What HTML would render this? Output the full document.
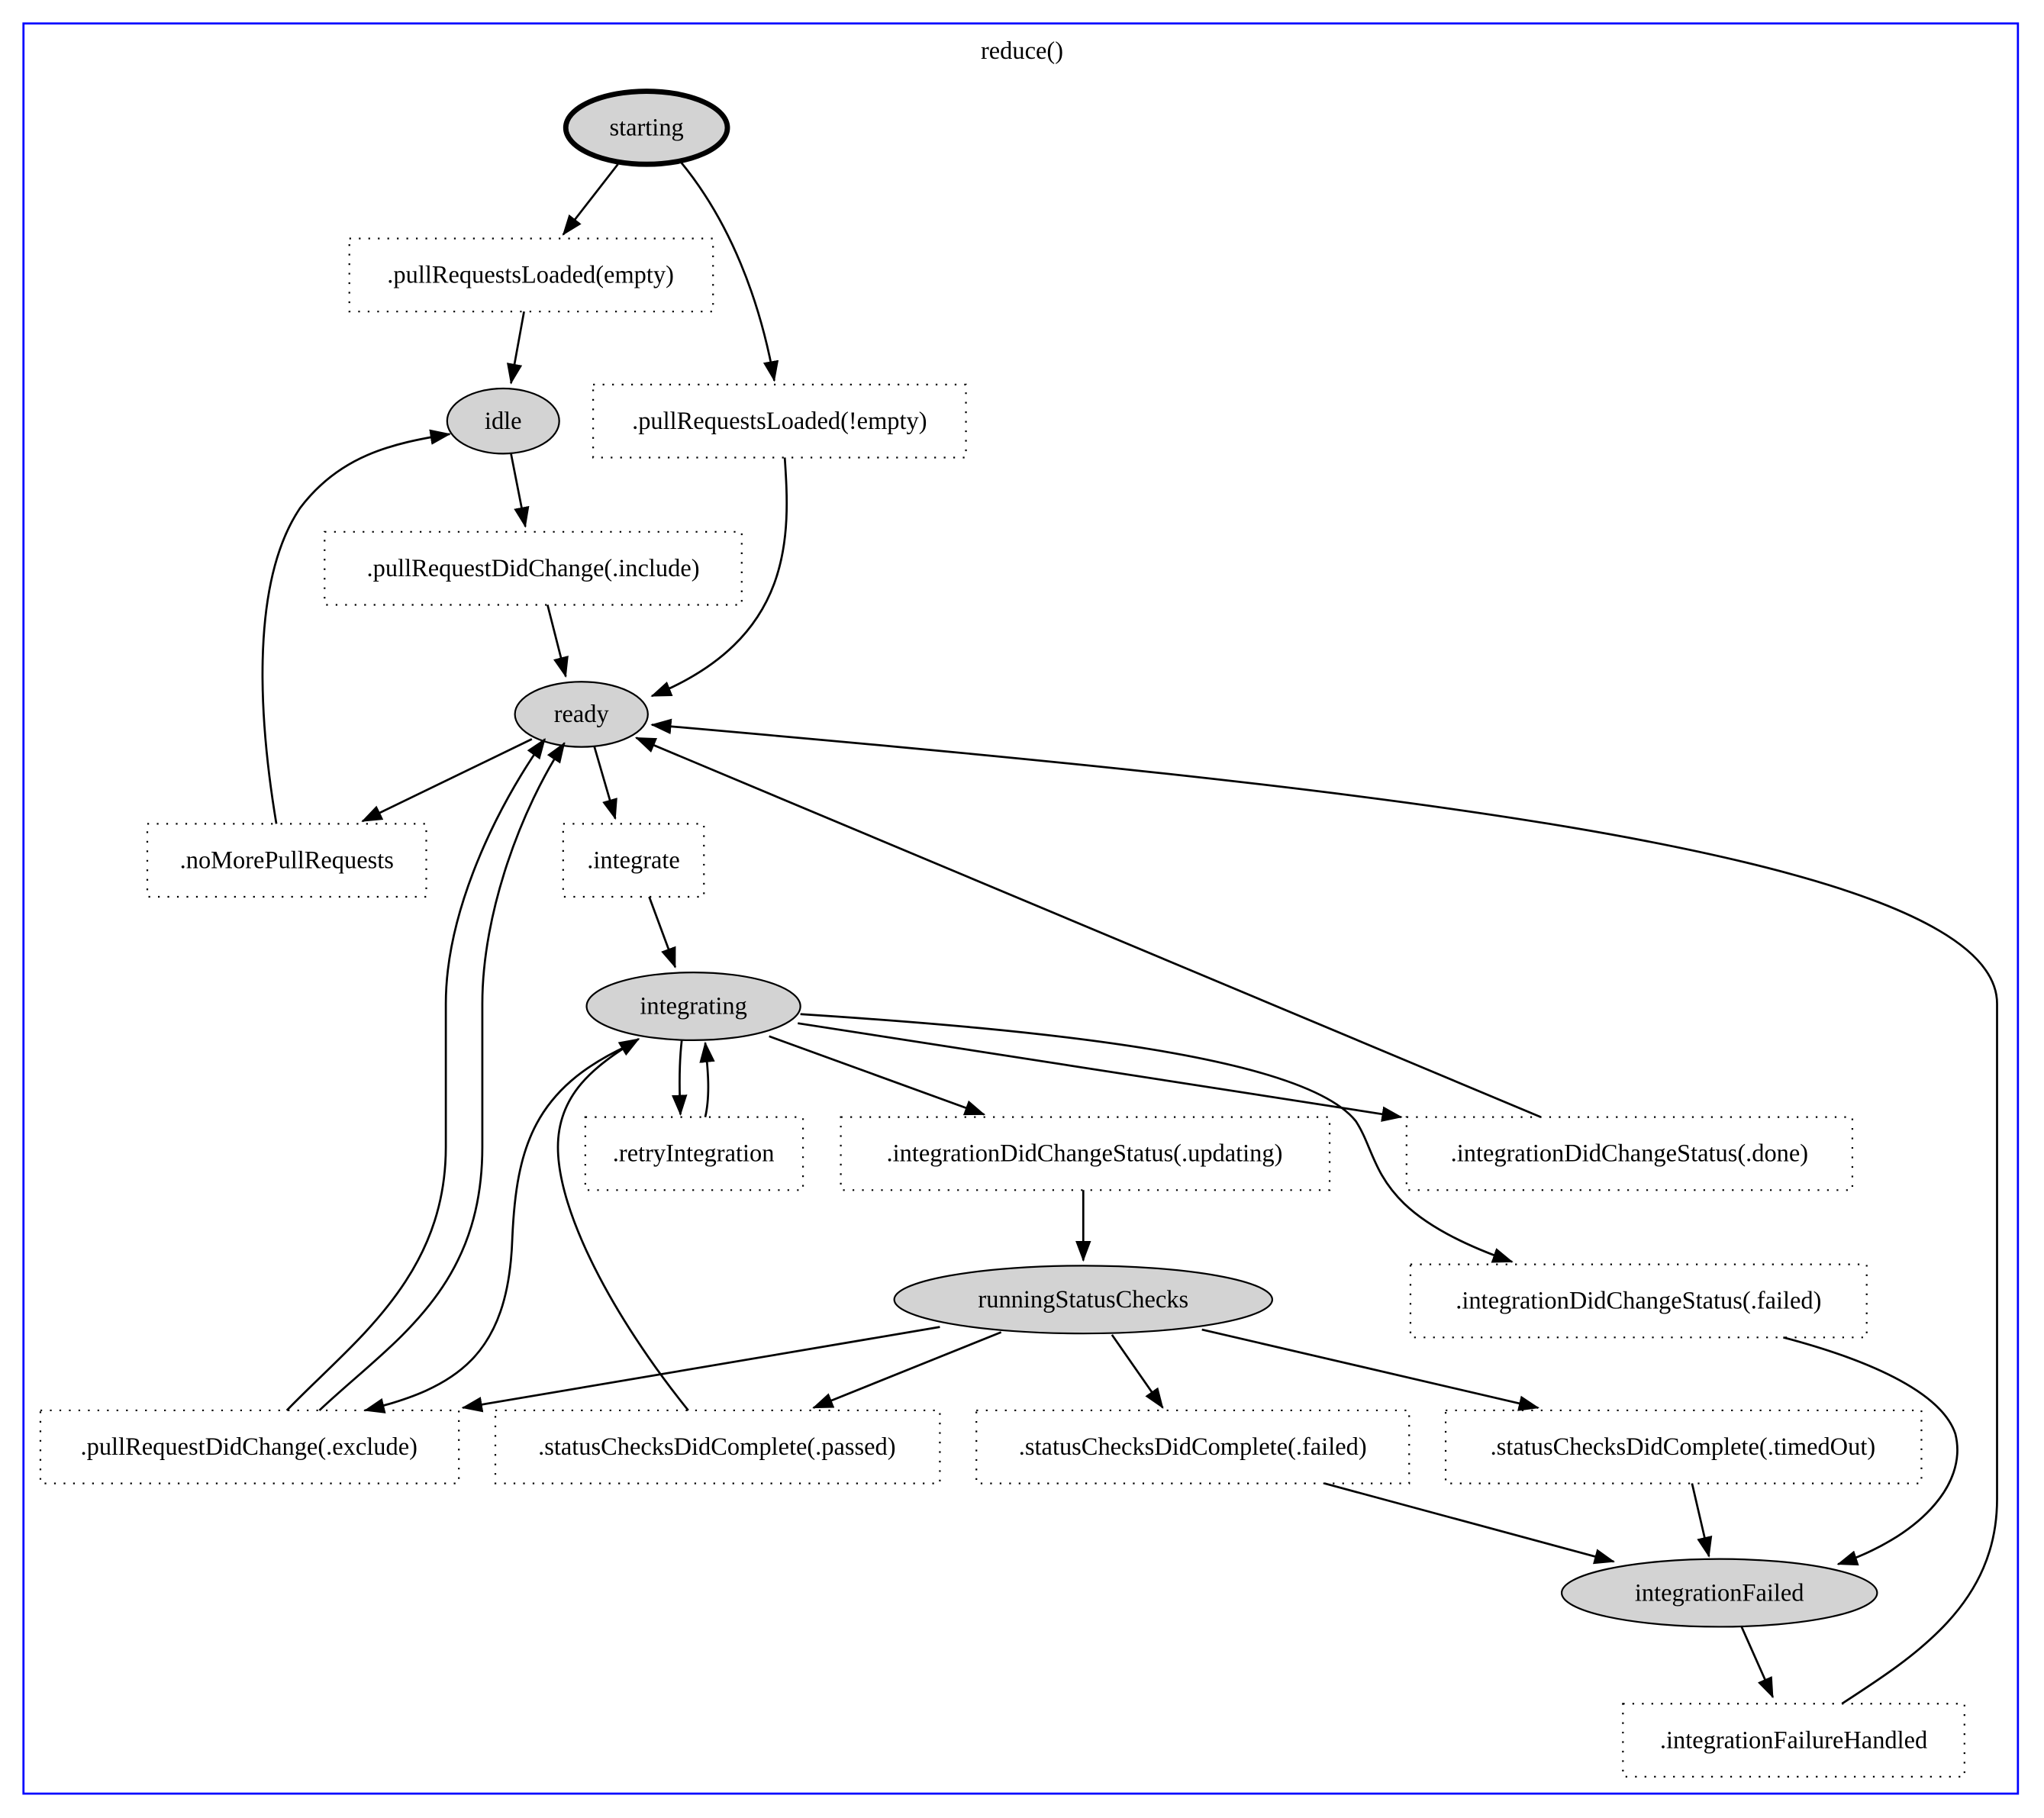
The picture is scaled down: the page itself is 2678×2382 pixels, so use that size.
<!DOCTYPE html>
<html><head><meta charset="utf-8"><style>
html,body{margin:0;padding:0;background:#fff;}
svg{display:block;}
text{font-family:"Liberation Serif",serif;font-size:19px;fill:#000;text-anchor:middle;}
.b{fill:none;stroke:#000;stroke-width:1.3;stroke-dasharray:1.3 6;}
.n{fill:#d3d3d3;stroke:#000;stroke-width:1.3;}
.e{fill:none;stroke:#000;stroke-width:1.6;marker-end:url(#a);}
</style></head><body>
<svg width="2678" height="2382" viewBox="0 0 1568 1394.7" xmlns="http://www.w3.org/2000/svg">
<defs><marker id="a" markerUnits="userSpaceOnUse" markerWidth="16" markerHeight="12" refX="15" refY="6" orient="auto"><path d="M0,0 L16,6 L0,12 Z" fill="#000"/></marker></defs>
<rect x="18" y="18" width="1530" height="1358" fill="none" stroke="#0000ff" stroke-width="1.6"/>
<text x="784" y="45">reduce()</text>

<ellipse class="n" cx="496" cy="98" rx="62" ry="28" style="stroke-width:4"/><text x="496" y="104">starting</text>
<ellipse class="n" cx="386" cy="323" rx="43" ry="25"/><text x="386" y="329">idle</text>
<ellipse class="n" cx="446" cy="548" rx="51" ry="25"/><text x="446" y="554">ready</text>
<ellipse class="n" cx="532" cy="772" rx="82" ry="26"/><text x="532" y="778">integrating</text>
<ellipse class="n" cx="831" cy="997" rx="145" ry="26"/><text x="831" y="1003">runningStatusChecks</text>
<ellipse class="n" cx="1319" cy="1222" rx="121" ry="26"/><text x="1319" y="1228">integrationFailed</text>

<rect class="b" x="268" y="183" width="279" height="56"/><text x="407" y="217">.pullRequestsLoaded(empty)</text>
<rect class="b" x="455" y="295" width="286" height="56"/><text x="598" y="329">.pullRequestsLoaded(!empty)</text>
<rect class="b" x="249" y="408" width="320" height="56"/><text x="409" y="442">.pullRequestDidChange(.include)</text>
<rect class="b" x="113" y="632" width="214" height="56"/><text x="220" y="666">.noMorePullRequests</text>
<rect class="b" x="432" y="632" width="108" height="56"/><text x="486" y="666">.integrate</text>
<rect class="b" x="449" y="857" width="167" height="56"/><text x="532" y="891">.retryIntegration</text>
<rect class="b" x="645" y="857" width="375" height="56"/><text x="832" y="891">.integrationDidChangeStatus(.updating)</text>
<rect class="b" x="1079" y="857" width="342" height="56"/><text x="1250" y="891">.integrationDidChangeStatus(.done)</text>
<rect class="b" x="1082" y="970" width="350" height="56"/><text x="1257" y="1004">.integrationDidChangeStatus(.failed)</text>
<rect class="b" x="31" y="1082" width="321" height="56"/><text x="191" y="1116">.pullRequestDidChange(.exclude)</text>
<rect class="b" x="380" y="1082" width="341" height="56"/><text x="550" y="1116">.statusChecksDidComplete(.passed)</text>
<rect class="b" x="749" y="1082" width="332" height="56"/><text x="915" y="1116">.statusChecksDidComplete(.failed)</text>
<rect class="b" x="1109" y="1082" width="365" height="56"/><text x="1291" y="1116">.statusChecksDidComplete(.timedOut)</text>
<rect class="b" x="1245" y="1307" width="262" height="56"/><text x="1376" y="1341">.integrationFailureHandled</text>

<path class="e" d="M474,126 L432,180"/>
<path class="e" d="M522,124 C560,170 583,230 594,292"/>
<path class="e" d="M402,239 L392,294"/>
<path class="e" d="M392,348 L403,404"/>
<path class="e" d="M420,464 L434,519"/>
<path class="e" d="M602,351 C606,410 610,490 500,534"/>
<path class="e" d="M408,567 L278,630"/>
<path class="e" d="M456,573 L472,628"/>
<path class="e" d="M212,632 C200,560 190,450 230,390 C260,350 300,340 345,333"/>
<path class="e" d="M498,688 L518,742"/>
<path class="e" d="M523,798 C521,815 521,835 522,855"/>
<path class="e" d="M541,857 C545,840 543,820 541,800"/>
<path class="e" d="M590,795 L755,855"/>
<path class="e" d="M612,785 L1075,857"/>
<path class="e" d="M614,778 C800,790 1000,810 1040,860 C1060,890 1050,930 1160,968"/>
<path class="e" d="M1182,857 L488,566"/>
<path class="e" d="M831,913 L831,967"/>
<path class="e" d="M721,1018 L355,1080"/>
<path class="e" d="M768,1022 L624,1080"/>
<path class="e" d="M853,1024 L892,1080"/>
<path class="e" d="M922,1020 L1180,1080"/>
<path class="e" d="M220,1082 C270,1030 342,980 342,880 L342,770 C342,700 380,620 418,567"/>
<path class="e" d="M245,1082 C300,1030 370,990 370,880 L370,770 C370,700 400,620 433,570"/>
<path class="e" d="M528,1082 C470,1010 428,930 428,880 C428,840 455,818 490,797"/>
<path class="e" d="M482,802 C410,835 396,880 393,950 C390,1040 350,1065 280,1082"/>
<path class="e" d="M1016,1138 L1238,1198"/>
<path class="e" d="M1298,1138 L1311,1194"/>
<path class="e" d="M1368,1026 C1440,1045 1490,1070 1500,1100 C1510,1140 1470,1180 1410,1200"/>
<path class="e" d="M1336,1248 L1360,1302"/>
<path class="e" d="M1413,1307 C1470,1270 1532,1230 1532,1150 L1532,770 C1532,650 1000,600 500,556"/>
</svg>
</body></html>
